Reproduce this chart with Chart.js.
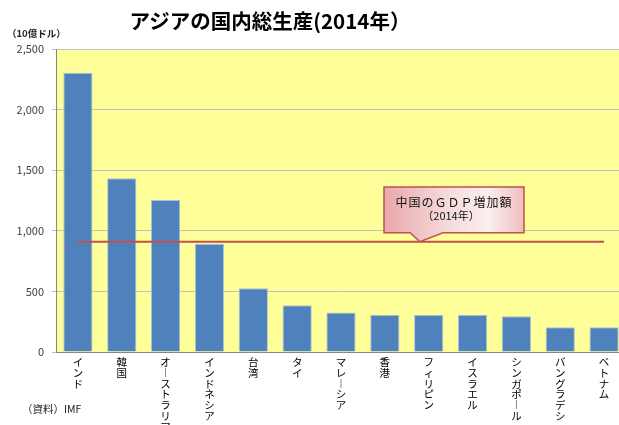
<!DOCTYPE html>
<html>
<head>
<meta charset="utf-8">
<script src="https://cdn.jsdelivr.net/npm/chart.js@4.4.1/dist/chart.umd.min.js"></script>
<style>
  html, body { margin: 0; padding: 0; background: #ffffff; overflow: hidden; width: 619px; height: 425px; }
  #wrap { position: absolute; left: 0; top: 0; width: 626px; height: 425px; }
  .txt { position: absolute; font-family: "Noto Sans CJK JP", "Noto Sans", sans-serif; color: #000; white-space: nowrap; }
  #title { left: 0; width: 540px; top: 7px; text-align: center; font-size: 20.5px; font-weight: bold; line-height: 26px; }
  #unit { left: 7px; top: 27px; font-size: 9.5px; font-weight: bold; line-height: 13px; color: #222; }
  #source { left: 22px; top: 402px; font-size: 10.5px; line-height: 14px; color: #222; }
</style>
</head>
<body>
<div id="wrap"><canvas id="c" width="626" height="425"></canvas></div>
<div class="txt" id="title">アジアの国内総生産(2014年）</div>
<div class="txt" id="unit">（10億ドル）</div>
<div class="txt" id="source">（資料）IMF</div>
<script>
// ---- data ----
const categories = ["インド", "韓国", "オーストラリア", "インドネシア", "台湾", "タイ", "マレーシア", "香港", "フィリピン", "イスラエル", "シンガポール", "バングラデシュ", "ベトナム"];
const gdp2014 = [2305, 1433, 1254, 893, 525, 386, 325, 308, 307, 307, 295, 204, 204];
const chinaIncrease = 910;
const yTicks = [0, 500, 1000, 1500, 2000, 2500];
const calloutLines = ["中国のＧＤＰ増加額", "（2014年）"];

function verticalize(s) {
  return Array.from(s).map(ch => ch === "ー" ? "︱" : ch);
}

const plotBg = {
  id: "plotBg",
  beforeDraw(chart) {
    const { ctx, chartArea: a } = chart;
    ctx.save();
    ctx.fillStyle = "#FFFF99";
    ctx.fillRect(a.left, a.top, a.right - a.left, a.bottom - a.top);
    ctx.restore();
  }
};

const callout = {
  id: "callout",
  afterDraw(chart) {
    const { ctx } = chart;
    const y = chart.scales.y;
    const tipY = y.getPixelForValue(chinaIncrease);
    const tipX = 420;
    const L = 384, R = 524, T = 187, B = tipY - 9;
    ctx.save();
    const g = ctx.createLinearGradient(L, 0, R, 0);
    g.addColorStop(0, "#e9a7ab");
    g.addColorStop(0.45, "#f6dadb");
    g.addColorStop(0.75, "#fbeeee");
    g.addColorStop(1, "#efbcbe");
    ctx.beginPath();
    ctx.moveTo(L, T);
    ctx.lineTo(R, T);
    ctx.lineTo(R, B);
    ctx.lineTo(443, B);
    ctx.lineTo(tipX, tipY);
    ctx.lineTo(410, B);
    ctx.lineTo(L, B);
    ctx.closePath();
    ctx.fillStyle = g;
    ctx.fill();
    ctx.strokeStyle = "#C0504D";
    ctx.lineWidth = 1.5;
    ctx.stroke();
    ctx.fillStyle = "#111";
    ctx.textAlign = "center";
    ctx.textBaseline = "middle";
    ctx.font = "12px 'Noto Sans CJK JP'";
    try { ctx.letterSpacing = "1px"; } catch (e) {}
    ctx.fillText(calloutLines[0], 454, 202);
    try { ctx.letterSpacing = "0px"; } catch (e) {}
    ctx.font = "11px 'Noto Sans CJK JP'";
    ctx.fillText(calloutLines[1], 451, 216);
    ctx.restore();
  }
};

new Chart(document.getElementById("c"), {
  type: "bar",
  data: {
    labels: categories,
    datasets: [
      {
        type: "line",
        data: [{ x: categories[0], y: chinaIncrease }, { x: categories[categories.length - 1], y: chinaIncrease }],
        borderColor: "#C0504D",
        borderWidth: 2,
        pointRadius: 0,
        fill: false,
        order: 0
      },
      {
        type: "bar",
        data: gdp2014,
        backgroundColor: "#4F81BD",
        borderColor: "#A9C1DF",
        borderWidth: 1,
        barPercentage: 0.667,
        categoryPercentage: 1.0,
        order: 1
      }
    ]
  },
  options: {
    responsive: false,
    animation: false,
    layout: { padding: { top: 49, left: 0, right: 0, bottom: 0 } },
    plugins: { legend: { display: false }, tooltip: { enabled: false }, title: { display: false } },
    scales: {
      x: {
        grid: { display: false, drawTicks: false },
        border: { display: true, color: "#868686", width: 1 },
        ticks: {
          autoSkip: false, maxRotation: 0, minRotation: 0, padding: 5,
          color: "#000",
          font: { family: "'Noto Sans CJK JP'", size: 10.5, lineHeight: 1.02 },
          callback: (v, i) => verticalize(categories[i])
        },
        afterFit(scale) { scale.height = 73; }
      },
      y: {
        min: yTicks[0], max: yTicks[yTicks.length - 1],
        afterBuildTicks(scale) { scale.ticks = yTicks.map(v => ({ value: v })); },
        grid: { color: "#BFBFBF", lineWidth: 1, tickLength: 4, drawTicks: true },
        border: { display: true, color: "#868686", width: 1 },
        ticks: {
          padding: 8, color: "#404040",
          font: { family: "'Noto Sans CJK JP'", size: 11 },
          callback: v => v.toLocaleString("en-US")
        },
        afterFit(scale) { scale.width = 56; }
      }
    }
  },
  plugins: [plotBg, callout]
});
</script>
</body>
</html>
